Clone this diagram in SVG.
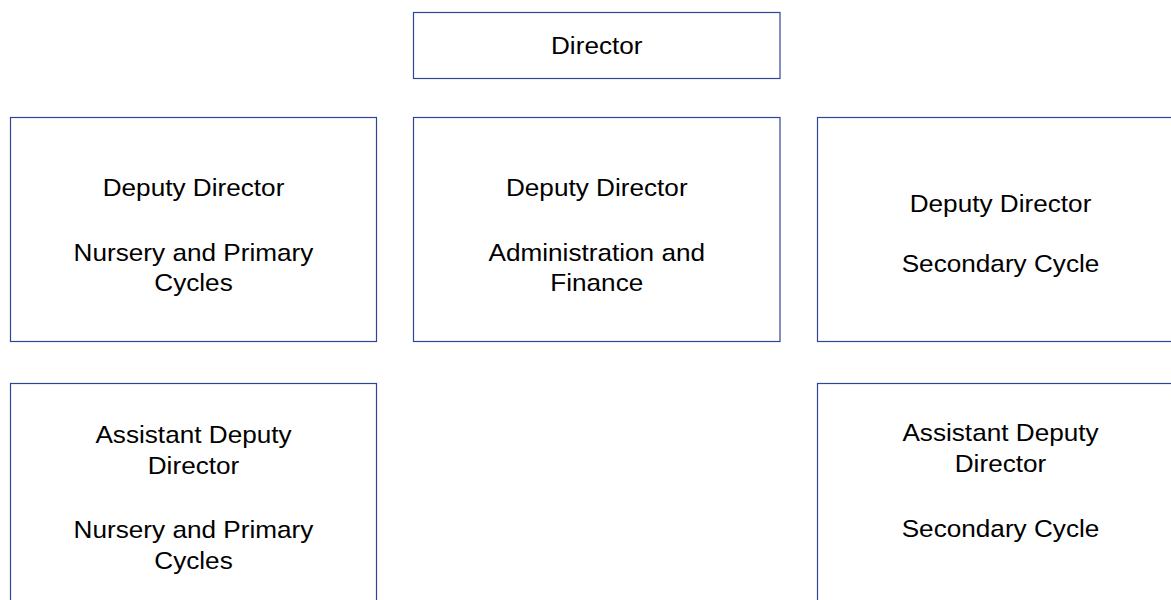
<svg xmlns="http://www.w3.org/2000/svg" width="1171" height="600" viewBox="0 0 1171 600">
  <style>
    .box { fill: #ffffff; stroke: #2f4596; stroke-width: 1.2; }
    .lbl { font-family: "Liberation Sans", Arial, sans-serif; font-size: 24px; fill: #000000; text-anchor: middle; }
  </style>
  <rect width="1171" height="600" fill="#ffffff"/>

  <!-- org chart has no drawn connectors -->
  <g id="connectors"></g>

  <g id="director">
    <rect class="box" x="413.5" y="12.5" width="366.5" height="66"/>
    <g transform="translate(596.75,0) scale(1.09,1)">
      <text class="lbl" x="0" y="54.5">Director</text>
    </g>
  </g>

  <g id="deputy-nursery-primary">
    <rect class="box" x="10.5" y="117.5" width="366" height="224"/>
    <g transform="translate(193.5,0) scale(1.09,1)">
      <text class="lbl" x="0" y="196">Deputy Director</text>
      <text class="lbl" x="0" y="261">Nursery and Primary</text>
      <text class="lbl" x="0" y="291">Cycles</text>
    </g>
  </g>

  <g id="deputy-admin-finance">
    <rect class="box" x="413.5" y="117.5" width="366.5" height="224"/>
    <g transform="translate(596.75,0) scale(1.09,1)">
      <text class="lbl" x="0" y="196">Deputy Director</text>
      <text class="lbl" x="0" y="261">Administration and</text>
      <text class="lbl" x="0" y="291">Finance</text>
    </g>
  </g>

  <g id="deputy-secondary">
    <rect class="box" x="817.5" y="117.5" width="366" height="224"/>
    <g transform="translate(1000.5,0) scale(1.09,1)">
      <text class="lbl" x="0" y="212">Deputy Director</text>
      <text class="lbl" x="0" y="272">Secondary Cycle</text>
    </g>
  </g>

  <g id="assistant-nursery-primary">
    <rect class="box" x="10.5" y="383.5" width="366" height="240"/>
    <g transform="translate(193.5,0) scale(1.09,1)">
      <text class="lbl" x="0" y="443">Assistant Deputy</text>
      <text class="lbl" x="0" y="474">Director</text>
      <text class="lbl" x="0" y="538.5">Nursery and Primary</text>
      <text class="lbl" x="0" y="569.5">Cycles</text>
    </g>
  </g>

  <g id="assistant-secondary">
    <rect class="box" x="817.5" y="383.5" width="366" height="240"/>
    <g transform="translate(1000.5,0) scale(1.09,1)">
      <text class="lbl" x="0" y="441">Assistant Deputy</text>
      <text class="lbl" x="0" y="472">Director</text>
      <text class="lbl" x="0" y="537">Secondary Cycle</text>
    </g>
  </g>
</svg>
